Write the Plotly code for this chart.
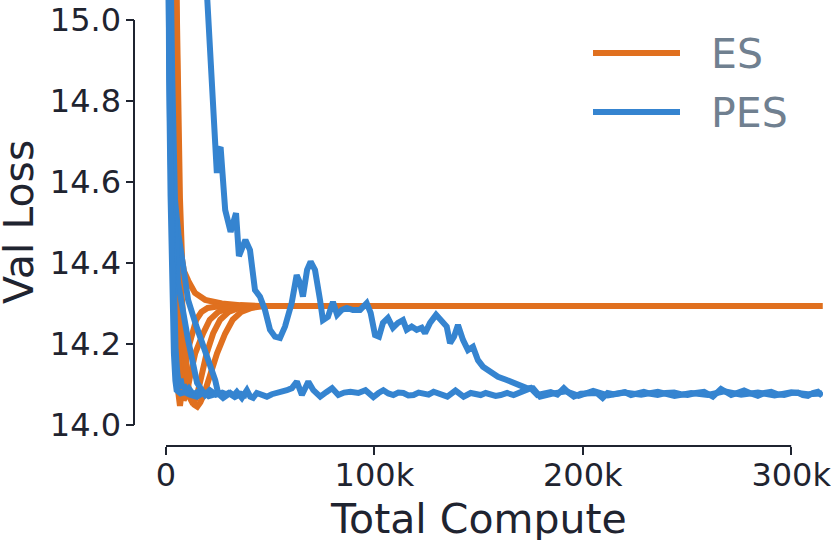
import plotly.graph_objects as go

# ---- data: x = total compute (thousands), y = validation loss ----
es1_x = [0, 3.0, 5.1, 5.8, 6.7, 7.7, 8.6, 10.7, 13.9, 18.8, 26.8, 35.6, 45.0, 314.9]
es1_y = [17.5, 15.6, 15.05, 14.81, 14.56, 14.41, 14.38, 14.356, 14.326, 14.309, 14.300, 14.296, 14.294, 14.294]

es2_x = [0, 2.4, 3.5, 4.5, 5.2, 5.9, 6.7, 7.5, 8.5, 10.0, 12.4, 14.5, 17.0, 20.0, 26.0, 314.9]
es2_y = [17.5, 15.05, 14.632, 14.342, 14.168, 14.080, 14.047, 14.071, 14.119, 14.177, 14.226, 14.260, 14.279, 14.289, 14.294, 14.294]

es3_x = [0, 3.2, 4.3, 5.4, 6.4, 7.4, 8.5, 9.8, 11.5, 14.0, 17.8, 21.0, 25.0, 30.0, 36.0, 314.9]
es3_y = [17.5, 15.05, 14.661, 14.371, 14.187, 14.090, 14.061, 14.075, 14.119, 14.177, 14.226, 14.260, 14.279, 14.289, 14.294, 14.294]

es4_x = [0, 4.0, 5.5, 7.0, 8.5, 10.0, 11.5, 13.0, 14.8, 17.0, 19.5, 22.6, 26.0, 30.0, 35.0, 41.0, 314.9]
es4_y = [17.5, 15.05, 14.613, 14.322, 14.177, 14.100, 14.066, 14.052, 14.071, 14.119, 14.177, 14.226, 14.260, 14.279, 14.289, 14.294, 14.294]

es5_x = [0, 4.5, 6.0, 7.5, 9.0, 10.5, 12.0, 13.5, 15.0, 16.5, 18.5, 21.0, 24.5, 28.4, 32.0, 36.0, 41.0, 47.0, 314.9]
es5_y = [17.5, 15.05, 14.564, 14.322, 14.177, 14.100, 14.066, 14.050, 14.045, 14.056, 14.080, 14.119, 14.177, 14.226, 14.260, 14.279, 14.289, 14.294, 14.294]

pes1_x = [0, 0.8, 1.5, 2.2, 3.0, 3.8, 4.5, 5.1, 7.0, 9.1,
          11.5, 14.8, 16.8, 18.75, 20.5, 22.6, 25.0, 27.4, 29.0, 30.8,
          32.5, 34.0, 36.4, 38.8, 40.4, 41.8, 43.6, 46.6, 48.4, 50.8,
          53.2, 55.6, 58.0, 60.4, 62.8, 65.2, 66.8, 68.3, 70.7, 72.5,
          74.0, 76.9, 79.7, 82.7, 85.5, 88.5, 92.3, 95.7, 97.5, 99.5,
          102.0, 104.3, 106.7, 109.1, 111.5, 113.9, 116.3, 118.8, 121.2, 123.6,
          126.0, 128.4, 131.5, 135.0, 138.9, 142.8, 146.2, 148.6, 151.0, 153.4,
          155.8, 158.2, 160.6, 163.7, 166.8, 169.0, 171.2, 175.0, 178.2, 181.4,
          184.6, 187.8, 190.9, 193.3, 195.7, 199.0, 202.3, 206.7, 209.5, 211.9,
          214.6, 217.3, 220.2, 223.1, 226.2, 229.3, 232.6, 235.9, 239.8, 243.8,
          247.0, 250.3, 254.2, 258.2, 262.4, 266.3, 271.2, 274.3, 277.4, 280.7,
          284.0, 287.2, 290.4, 293.5, 296.6, 299.9, 303.2, 305.6, 308.0, 310.4,
          312.8, 314.9]
pes1_y = [16.5, 15.29, 14.855, 14.564, 14.322, 14.177, 14.110, 14.086, 14.078, 14.081,
          14.075, 14.070, 14.076, 14.079, 14.071, 14.074, 14.078, 14.067, 14.075, 14.079,
          14.073, 14.082, 14.067, 14.086, 14.070, 14.067, 14.079, 14.074, 14.070, 14.076,
          14.079, 14.081, 14.086, 14.091, 14.107, 14.074, 14.090, 14.107, 14.086, 14.078,
          14.070, 14.081, 14.091, 14.074, 14.080, 14.082, 14.079, 14.086, 14.076, 14.069,
          14.079, 14.086, 14.078, 14.074, 14.080, 14.079, 14.073, 14.074, 14.080, 14.079,
          14.075, 14.082, 14.076, 14.070, 14.085, 14.070, 14.079, 14.076, 14.074, 14.079,
          14.077, 14.072, 14.074, 14.079, 14.074, 14.078, 14.084, 14.091, 14.074, 14.078,
          14.081, 14.075, 14.091, 14.079, 14.070, 14.077, 14.079, 14.079, 14.067, 14.079,
          14.076, 14.077, 14.081, 14.074, 14.078, 14.082, 14.077, 14.074, 14.079, 14.080,
          14.076, 14.074, 14.079, 14.082, 14.070, 14.089, 14.074, 14.080, 14.085, 14.078,
          14.072, 14.079, 14.082, 14.076, 14.074, 14.079, 14.080, 14.074, 14.072, 14.079,
          14.082, 14.072]

pes2_x = [0, 1.5, 3.0, 4.3, 6.0, 10.6, 14.5, 18.75, 21.5, 23.6, 25.0, 27.5, 30.0, 33.0, 36.0, 39.0]
pes2_y = [17.0, 15.39, 14.855, 14.556, 14.47, 14.309, 14.245, 14.185, 14.14, 14.111, 14.079, 14.072, 14.079, 14.069, 14.077, 14.071]

pes3_x = [0, 1.2, 2.9, 5.8, 10.6, 14.9, 18.75, 21.0, 24.0, 27.0, 30.0]
pes3_y = [17.0, 15.3, 14.679, 14.351, 14.210, 14.104, 14.074, 14.086, 14.075, 14.080, 14.074]

pes4_x = [0, 5, 10, 15, 19.6, 20.2, 22.6, 23.6, 24.4, 25.2,
          26.2, 28.4, 31.0, 33.6, 35.0, 38.1, 40.3, 42.7, 45.1, 47.5,
          49.9, 52.3, 54.7, 57.1, 60.3, 62.7, 64.3, 65.7, 67.7, 69.4,
          71.5, 73.9, 75.3, 77.7, 80.1, 82.1, 84.3, 86.7, 89.7, 93.1,
          96.3, 98.2, 100.3, 102.2, 104.1, 106.5, 108.9, 111.3, 113.7, 115.5,
          117.9, 120.3, 122.7, 124.3, 126.7, 129.6, 132.3, 134.7, 136.3, 138.2,
          140.1, 142.5, 144.9, 147.3, 149.7, 152.1, 155.5, 159.3, 163.5, 168.3,
          173.1, 176.1, 179.5, 186, 192, 198, 205, 212, 220, 228,
          236, 244, 252, 260, 268, 276, 284, 292, 300, 308,
          314.9]
pes4_y = [20.0, 17.5, 16.3, 15.5, 15.05, 14.968, 14.802, 14.696, 14.622, 14.679,
          14.686, 14.531, 14.477, 14.523, 14.417, 14.457, 14.432, 14.333, 14.317, 14.284,
          14.235, 14.218, 14.215, 14.243, 14.301, 14.370, 14.351, 14.317, 14.383, 14.403,
          14.383, 14.309, 14.259, 14.267, 14.304, 14.272, 14.284, 14.289, 14.284, 14.284,
          14.301, 14.277, 14.222, 14.218, 14.252, 14.264, 14.240, 14.252, 14.259, 14.235,
          14.243, 14.235, 14.240, 14.227, 14.252, 14.272, 14.259, 14.243, 14.202, 14.218,
          14.247, 14.210, 14.185, 14.193, 14.160, 14.144, 14.132, 14.119, 14.111, 14.099,
          14.091, 14.091, 14.070, 14.078, 14.083, 14.072, 14.084, 14.073, 14.080, 14.075,
          14.082, 14.072, 14.079, 14.074, 14.083, 14.075, 14.080, 14.073, 14.081, 14.076,
          14.078]

pes5_x = [0, 1.0, 2.0, 3.0, 3.8, 4.6, 5.4, 6.2, 7.0, 7.8, 8.6, 9.5, 11.0, 13.0, 15.0, 17.0]
pes5_y = [17.0, 15.19, 14.71, 14.44, 14.284, 14.187, 14.129, 14.10, 14.114, 14.09, 14.10, 14.08, 14.09, 14.076, 14.081, 14.075]

x_tickvals = [0, 100, 200, 300]
x_ticktext = ["0", "100k", "200k", "300k"]
y_tickvals = [14.0, 14.2, 14.4, 14.6, 14.8, 15.0]
y_ticktext = ["14.0", "14.2", "14.4", "14.6", "14.8", "15.0"]

series_names = ["ES", "PES"]

ES_COLOR = "#E0701F"
PES_COLOR = "#3584D0"
INK = "#1f2430"
FONT = "DejaVu Sans"
LW = 6

# ---- geometry (pixels in the 831x540 page) ----
W, H = 831, 540
PL, PR, PT, PB = 134, 823, 0, 446
X0_PX, PX_PER_K = 166, 2.084
Y15_PX, PX_PER_UNIT = 20, 405

x_range = [(163 - X0_PX) / PX_PER_K, (PR - X0_PX) / PX_PER_K]
x_dom = [(163 - PL) / (PR - PL), 1]
y_range = [15 - (429 - Y15_PX) / PX_PER_UNIT, 15 + (Y15_PX - PT) / PX_PER_UNIT]
y_dom = [(PB - 429) / (PB - PT), 1]


def xpaper(v):
    return x_dom[0] + (v - x_range[0]) / (x_range[1] - x_range[0]) * (x_dom[1] - x_dom[0])


def ypaper(v):
    return y_dom[0] + (v - y_range[0]) / (y_range[1] - y_range[0]) * (y_dom[1] - y_dom[0])


def px_x(px):
    return (px - PL) / (PR - PL)


def px_y(py):
    return (PB - py) / (PB - PT)


fig = go.Figure()

es_runs = [(es1_x, es1_y), (es2_x, es2_y), (es3_x, es3_y), (es4_x, es4_y), (es5_x, es5_y)]
pes_runs = [(pes2_x, pes2_y), (pes3_x, pes3_y), (pes5_x, pes5_y), (pes4_x, pes4_y), (pes1_x, pes1_y)]

for xs, ys in es_runs:
    fig.add_trace(go.Scatter(
        x=xs, y=ys, mode="lines", showlegend=False,
        line=dict(color=ES_COLOR, width=LW),
    ))

for xs, ys in pes_runs:
    fig.add_trace(go.Scatter(
        x=xs, y=ys, mode="lines", showlegend=False,
        line=dict(color=PES_COLOR, width=LW),
    ))

# offset, trimmed spines
shapes = [
    dict(type="line", xref="paper", yref="paper",
         x0=0, x1=0, y0=ypaper(y_tickvals[0]), y1=ypaper(y_tickvals[-1]),
         line=dict(color=INK, width=2)),
    dict(type="line", xref="paper", yref="paper",
         x0=xpaper(x_tickvals[0]), x1=xpaper(x_tickvals[-1]), y0=0, y1=0,
         line=dict(color=INK, width=2)),
]

# legend
annotations = []
for name, color, py in zip(series_names, [ES_COLOR, PES_COLOR], [53, 112]):
    shapes.append(dict(type="line", xref="paper", yref="paper",
                       x0=px_x(593), x1=px_x(680), y0=px_y(py), y1=px_y(py),
                       line=dict(color=color, width=6)))
    annotations.append(dict(text=name, xref="paper", yref="paper",
                            x=px_x(709), y=px_y(py + 1), xanchor="left", yanchor="middle",
                            showarrow=False, font=dict(family=FONT, size=41, color="#708090")))

annotations.append(dict(text="Total Compute", xref="paper", yref="paper",
                        x=xpaper(sum(x_tickvals) / len(x_tickvals)), y=px_y(519),
                        xanchor="center", yanchor="middle", showarrow=False,
                        font=dict(family=FONT, size=41, color=INK)))
annotations.append(dict(text="Val Loss", xref="paper", yref="paper",
                        x=px_x(19.5), y=ypaper(14.5), textangle=-90,
                        xanchor="center", yanchor="middle", showarrow=False,
                        font=dict(family=FONT, size=41, color=INK)))

fig.update_layout(
    width=W, height=H,
    margin=dict(l=PL, r=W - PR, t=PT, b=H - PB, autoexpand=False),
    paper_bgcolor="white", plot_bgcolor="white",
    showlegend=False,
    font=dict(family=FONT, color=INK),
    xaxis=dict(
        domain=x_dom, range=x_range, anchor="free", position=0, automargin=False,
        tickvals=x_tickvals, ticktext=x_ticktext, ticklabeloverflow="allow",
        ticks="outside", ticklen=8, tickwidth=2, tickcolor=INK, ticklabelstandoff=-7,
        tickfont=dict(family=FONT, size=32, color=INK),
        showgrid=False, zeroline=False, showline=False,
    ),
    yaxis=dict(
        domain=y_dom, range=y_range, anchor="free", position=0, automargin=False,
        tickvals=y_tickvals, ticktext=y_ticktext, ticklabeloverflow="allow",
        ticks="outside", ticklen=8.5, tickwidth=2, tickcolor=INK, ticklabelstandoff=-2,
        tickfont=dict(family=FONT, size=32, color=INK),
        showgrid=False, zeroline=False, showline=False,
    ),
    shapes=shapes,
    annotations=annotations,
)

# the page's default 8px body margin would shift the 831x540 figure
fig.write_html("out.html", config={"displayModeBar": False},
               post_script="document.body.style.margin = '0';")
